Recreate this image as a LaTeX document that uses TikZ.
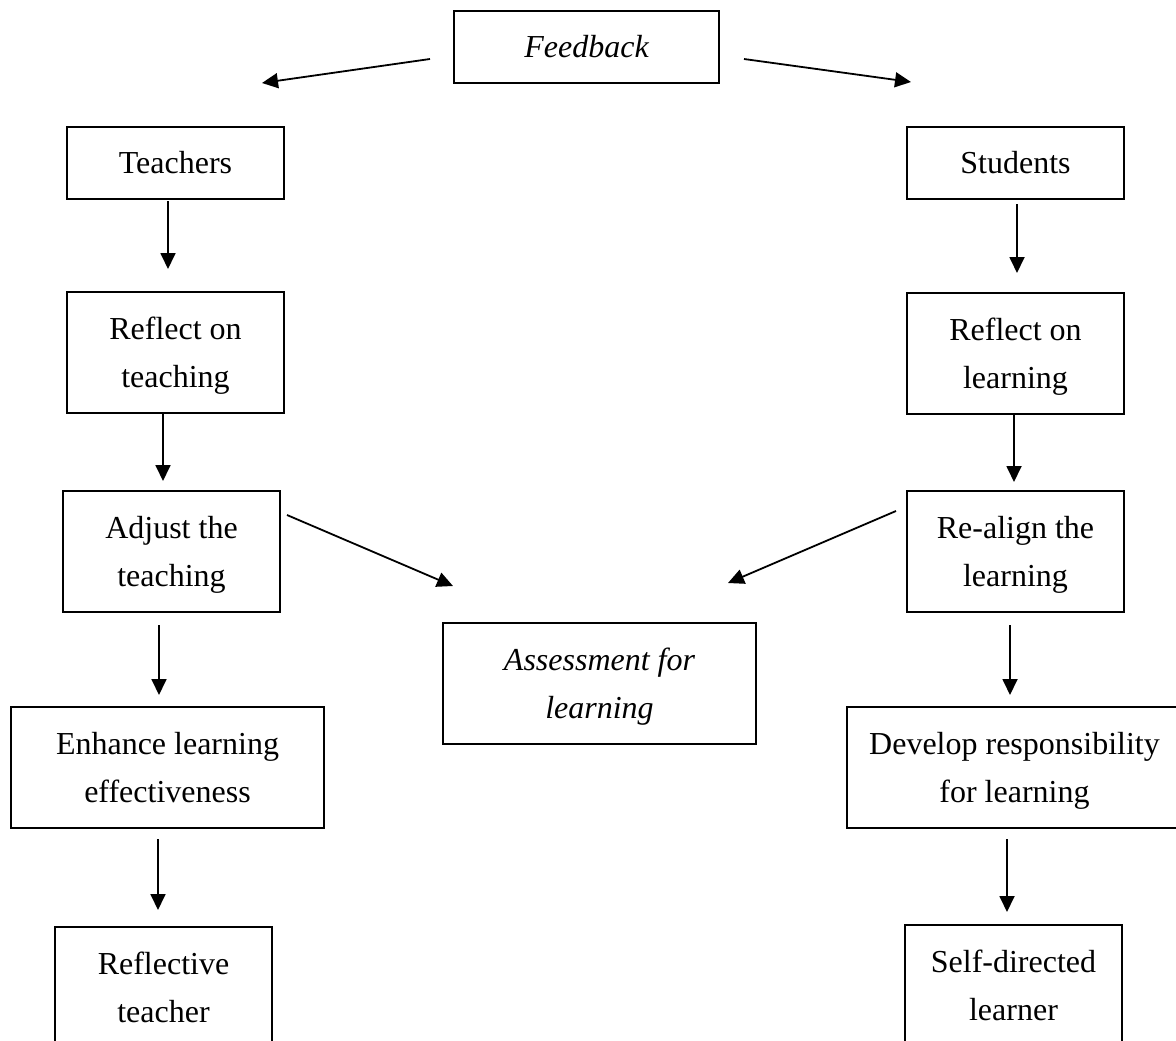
\documentclass[tikz,border=0pt]{standalone}
\usepackage{fontspec}
\setmainfont{Liberation Serif}
\usetikzlibrary{arrows.meta}
\tikzset{
  box/.style={draw, line width=2pt, inner sep=0pt, align=center,
    font=\fontsize{32}{48}\selectfont, text depth=0pt},
  one/.style={box, text height=21pt, minimum height=72pt},
  two/.style={box, text height=69pt, minimum height=121pt},
  arr/.style={line width=1.8pt, -{Triangle[length=16pt,width=15pt]}}
}
\begin{document}
\begin{tikzpicture}[x=1pt,y=-1pt]
\useasboundingbox (0,0) rectangle (1176,1041);
\clip (0,0) rectangle (1176,1041);

\node[one, minimum width=265pt] (fb) at (586.5,47) {\itshape Feedback};
\node[one, minimum width=217pt] (teach) at (175.5,163) {Teachers};
\node[one, minimum width=217pt] (stud) at (1015.5,163) {Students};
\node[two, minimum width=217pt] (refT) at (175.5,352.5) {Reflect on\\teaching};
\node[two, minimum width=217pt] (refL) at (1015.5,353.5) {Reflect on\\learning};
\node[two, minimum width=217pt] (adj) at (171.5,551.5) {Adjust the\\teaching};
\node[two, minimum width=217pt] (realign) at (1015.5,551.5) {Re-align the\\learning};
\node[two, minimum width=313pt] (afl) at (599.5,683.5) {\itshape Assessment for\\\itshape learning};
\node[two, minimum width=313pt] (enh) at (167.5,767.5) {Enhance learning\\effectiveness};
\node[two, minimum width=335pt] (dev) at (1014.5,767.5) {Develop responsibility\\for learning};
\node[two, minimum width=217pt] (refl) at (163.5,987.5) {Reflective\\teacher};
\node[two, minimum width=217pt] (self) at (1013.5,985.5) {Self-directed\\learner};

\draw[arr] ([shift={(-23,12)}]fb.west) -- ([shift={(86.5,-43)}]teach.north);
\draw[arr] ([shift={(24,12)}]fb.east) -- ([shift={(-104.5,-44)}]stud.north);

\draw[arr] ([shift={(-7.5,1)}]teach.south) -- ([shift={(-7.5,-22)}]refT.north);
\draw[arr] ([shift={(1.5,4)}]stud.south) -- ([shift={(1.5,-19)}]refL.north);
\draw[arr] ([shift={(-12.5,0)}]refT.south) -- ([shift={(-8.5,-9)}]adj.north);
\draw[arr] ([shift={(-1.5,0)}]refL.south) -- ([shift={(-1.5,-8)}]realign.north);
\draw[arr] ([shift={(-12.5,12)}]adj.south) -- ([shift={(-8.5,-11)}]enh.north);
\draw[arr] ([shift={(-5.5,12)}]realign.south) -- ([shift={(-4.5,-11)}]dev.north);
\draw[arr] ([shift={(-9.5,10)}]enh.south) -- ([shift={(-5.5,-16)}]refl.north);
\draw[arr] ([shift={(-7.5,10)}]dev.south) -- ([shift={(-6.5,-12)}]self.north);

\draw[arr] ([shift={(6,-36.5)}]adj.east) -- ([shift={(-146.5,-36)}]afl.north);
\draw[arr] ([shift={(-10,-40.5)}]realign.west) -- ([shift={(128.5,-39)}]afl.north);
\end{tikzpicture}
\end{document}
